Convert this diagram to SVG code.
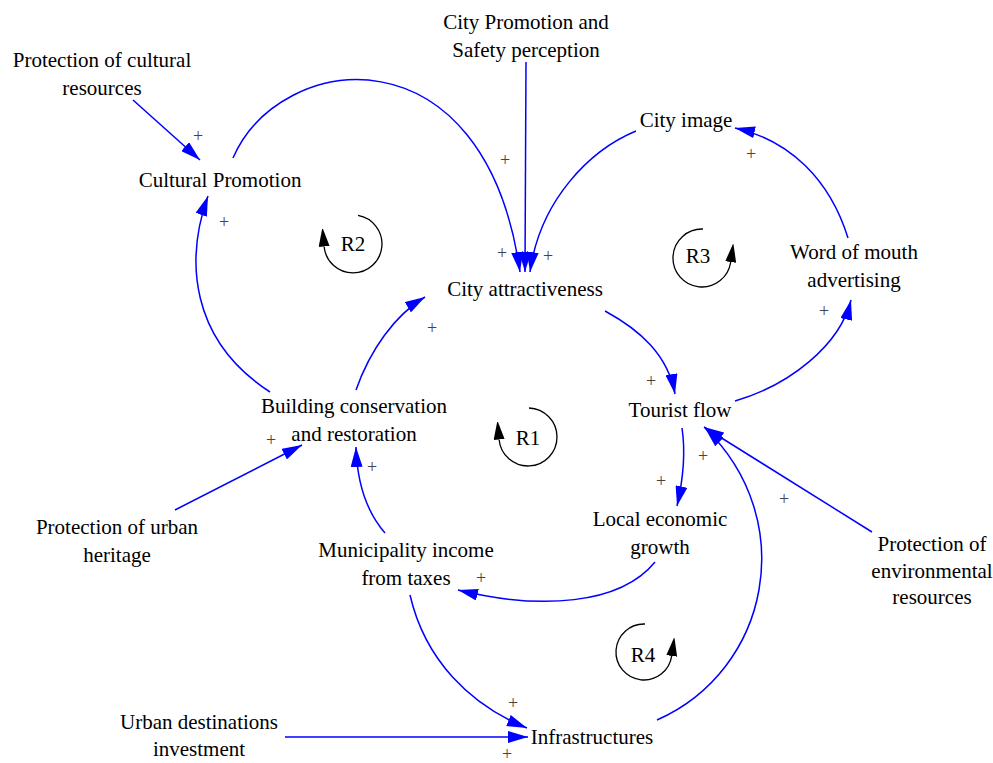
<svg xmlns="http://www.w3.org/2000/svg" width="993" height="763" viewBox="0 0 993 763">
<defs>
<marker id="ah" markerUnits="userSpaceOnUse" markerWidth="20" markerHeight="12" refX="20" refY="6" orient="auto">
<path d="M0,0 L20,6 L0,12 z" fill="#0000ff"/>
</marker>
<marker id="lh" markerUnits="userSpaceOnUse" markerWidth="18" markerHeight="11" refX="0" refY="5.5" orient="auto">
<path d="M0,0 L19,5.5 L0,11 z" fill="#000"/>
</marker>
<style>
.t{font-family:"Liberation Serif","Times New Roman",serif;font-size:21px;fill:#000;text-anchor:middle}
.p{font-family:"Liberation Serif","Times New Roman",serif;font-size:18px;fill:#444;text-anchor:middle}
.c{fill:none;stroke:#0000ff;stroke-width:1.5;marker-end:url(#ah)}
.l{fill:none;stroke:#000;stroke-width:1.3;marker-end:url(#lh)}
</style>
</defs>
<rect width="993" height="763" fill="#fff"/>
<g id="connectors">
<path class="c" d="M133,100 L200,160"/>
<path class="c" d="M233,158 C280,50 485,25 520,272"/>
<path class="c" d="M526,62 L525,272"/>
<path class="c" d="M636,131 C590,150 540,200 530,272"/>
<path class="c" d="M605,311 C640,330 668,355 675,394"/>
<path class="c" d="M735,401 C790,385 840,345 851,300"/>
<path class="c" d="M848,238 C830,180 790,140 735,128"/>
<path class="c" d="M682,428 C686,455 683,480 677,506"/>
<path class="c" d="M655,562 C620,605 540,610 458,590"/>
<path class="c" d="M385,533 C365,510 357,480 356,447"/>
<path class="c" d="M270,392 C190,340 185,260 208,196"/>
<path class="c" d="M356,390 C370,350 395,315 425,297"/>
<path class="c" d="M175,510 L302,445"/>
<path class="c" d="M410,595 C425,660 470,705 527,728"/>
<path class="c" d="M285,737 L528,737"/>
<path class="c" d="M657,720 C770,670 800,520 705,428"/>
<path class="c" d="M872,532 L704,427"/>
</g>
<g id="polarities">
<text class="p" x="198" y="142">+</text>
<text class="p" x="505" y="166">+</text>
<text class="p" x="502" y="259">+</text>
<text class="p" x="548" y="262">+</text>
<text class="p" x="224" y="228">+</text>
<text class="p" x="432" y="334">+</text>
<text class="p" x="651" y="387">+</text>
<text class="p" x="824" y="317">+</text>
<text class="p" x="751" y="160">+</text>
<text class="p" x="661" y="487">+</text>
<text class="p" x="703" y="462">+</text>
<text class="p" x="784" y="505">+</text>
<text class="p" x="481" y="584">+</text>
<text class="p" x="372" y="473">+</text>
<text class="p" x="271" y="446">+</text>
<text class="p" x="513" y="709">+</text>
<text class="p" x="507" y="760">+</text>
</g>
<g id="loop-R2">
<path class="l" d="M358,215.4 A29,29 0 1 1 324.1,246.5"/>
<text class="t" x="353" y="251">R2</text>
</g>
<g id="loop-R1">
<path class="l" d="M529,408 A29,29 0 1 1 499.1,439.5"/>
<text class="t" x="528" y="445">R1</text>
</g>
<g id="loop-R3">
<path class="l" d="M703,229 A29,29 0 1 0 730.7,262"/>
<text class="t" x="698" y="263">R3</text>
</g>
<g id="loop-R4">
<path class="l" d="M645,624 A28,28 0 1 0 671.7,655.9"/>
<text class="t" x="643" y="662">R4</text>
</g>
<g id="n-protection-cultural"><text class="t" x="102" y="67">Protection of cultural</text><text class="t" x="102" y="95">resources</text></g>
<g id="n-city-promotion"><text class="t" x="526" y="29">City Promotion and</text><text class="t" x="526" y="57">Safety perception</text></g>
<g id="n-cultural-promotion"><text class="t" x="220" y="187">Cultural Promotion</text></g>
<g id="n-city-image"><text class="t" x="686" y="127">City image</text></g>
<g id="n-word-of-mouth"><text class="t" x="854" y="259">Word of mouth</text><text class="t" x="854" y="287">advertising</text></g>
<g id="n-city-attractiveness"><text class="t" x="525" y="296">City attractiveness</text></g>
<g id="n-building"><text class="t" x="354" y="413">Building conservation</text><text class="t" x="354" y="441">and restoration</text></g>
<g id="n-tourist-flow"><text class="t" x="680" y="417">Tourist flow</text></g>
<g id="n-local-economic"><text class="t" x="660" y="526">Local economic</text><text class="t" x="660" y="554">growth</text></g>
<g id="n-municipality"><text class="t" x="406" y="557">Municipality income</text><text class="t" x="406" y="585">from taxes</text></g>
<g id="n-protection-urban"><text class="t" x="117" y="534">Protection of urban</text><text class="t" x="117" y="562">heritage</text></g>
<g id="n-protection-env"><text class="t" x="932" y="551">Protection of</text><text class="t" x="932" y="578">environmental</text><text class="t" x="932" y="604">resources</text></g>
<g id="n-urban-investment"><text class="t" x="199" y="729">Urban destinations</text><text class="t" x="199" y="756">investment</text></g>
<g id="n-infrastructures"><text class="t" x="592" y="744">Infrastructures</text></g>
</svg>
